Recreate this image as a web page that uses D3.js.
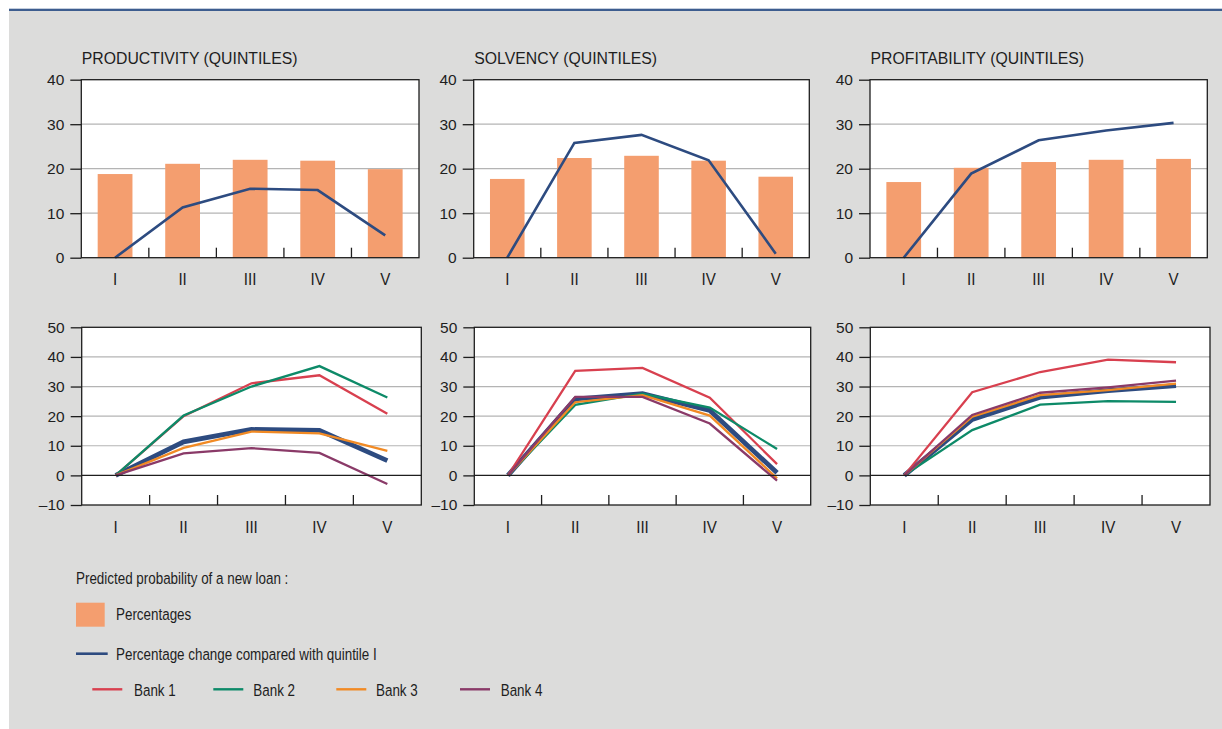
<!DOCTYPE html>
<html><head><meta charset="utf-8">
<script src="https://cdn.jsdelivr.net/npm/d3@7"></script>
<style>body{margin:0;background:#fff}</style>
</head><body><svg id="c" width="1222" height="729"></svg>
<script>
// ---------- DATA ----------
const quintiles = ["I", "II", "III", "IV", "V"];
const panelTitles = ["PRODUCTIVITY (QUINTILES)", "SOLVENCY (QUINTILES)", "PROFITABILITY (QUINTILES)"];
const topTicks = [0, 10, 20, 30, 40];
const bottomTicks = [-10, 0, 10, 20, 30, 40, 50];

// predicted probability (percentages) - bars
const pctProductivity = [18.8, 21.1, 22.0, 21.8, 19.9];
const pctSolvency = [17.7, 22.4, 22.9, 21.8, 18.2];
const pctProfitability = [17.0, 20.2, 21.5, 22.0, 22.2];

// percentage change compared with quintile I (all banks)
const chgProductivity = [0, 11.3, 15.5, 15.2, 5.0];
const chgSolvency = [0, 25.8, 27.6, 21.9, 0.9];
const chgProfitability = [0, 18.9, 26.4, 28.6, 30.3];

// per bank percentage change
const bank1Productivity = [0, 20.0, 31.1, 33.8, 20.8];
const bank2Productivity = [0, 20.2, 30.0, 36.9, 26.3];
const bank3Productivity = [0, 9.3, 14.8, 14.2, 8.3];
const bank4Productivity = [0, 7.4, 9.2, 7.6, -2.9];

const bank1Solvency = [0, 35.3, 36.3, 26.2, 3.8];
const bank2Solvency = [0, 23.8, 27.6, 22.9, 8.9];
const bank3Solvency = [0, 24.7, 27.1, 20.2, -1.0];
const bank4Solvency = [0, 26.5, 26.5, 17.5, -1.8];

const bank1Profitability = [0, 28.1, 34.9, 39.1, 38.2];
const bank2Profitability = [0, 15.3, 23.9, 25.1, 24.8];
const bank3Profitability = [0, 19.8, 27.1, 28.8, 31.0];
const bank4Profitability = [0, 20.4, 27.9, 29.7, 32.0];

const bankNames = ["Bank 1", "Bank 2", "Bank 3", "Bank 4"];
const legendTitle = "Predicted probability of a new loan :";
const legendBars = "Percentages";
const legendLine = "Percentage change compared with quintile I";

// ---------- STYLE / LAYOUT ----------
const C = {
  bg: "#dcdcdb", bar: "#f49e6f", blue: "#2d4b80", frame: "#1e1e1e", grid: "#b4b4b4",
  banks: ["#d8404f", "#0d8a68", "#f18a24", "#8a3a68"], text: "#1e1e1e", topRule: "#3d5d8f"
};
const font = "'Liberation Sans',Arial,sans-serif";

const svg = d3.select("#c");
svg.append("rect").attr("x", 9).attr("y", 10).attr("width", 1213).attr("height", 719).attr("fill", C.bg);
svg.append("rect").attr("x", 9).attr("y", 8.7).attr("width", 1213).attr("height", 2.3).attr("fill", C.topRule);

// text with horizontal compression (condensed look)
function ctext(parent, x, y, str, size, sx, anchor) {
  return parent.append("text")
    .attr("transform", `translate(${x},${y}) scale(${sx},1)`)
    .attr("text-anchor", anchor || "start").attr("dominant-baseline", "central")
    .attr("fill", C.text).style("font-family", font).style("font-size", size + "px").text(str);
}

const topPanels = [[81.3, 419], [473.7, 809.3], [870, 1207.3]];
const bottomPanels = [[81.7, 421.3], [474.3, 810.7], [870.3, 1210]];

const pctData = [pctProductivity, pctSolvency, pctProfitability];
const chgData = [chgProductivity, chgSolvency, chgProfitability];
const bankData = [
  [bank1Productivity, bank2Productivity, bank3Productivity, bank4Productivity],
  [bank1Solvency, bank2Solvency, bank3Solvency, bank4Solvency],
  [bank1Profitability, bank2Profitability, bank3Profitability, bank4Profitability]
];

function drawFrame(g, x, y, ticks, zeroLine) {
  const [x0, x1] = x.range();
  const [yb, yt] = y.range();
  g.append("rect").attr("x", x0).attr("y", yt).attr("width", x1 - x0).attr("height", yb - yt).attr("fill", "#fff");
  ticks.slice(1, -1).forEach(t => {
    if (t === 0 && zeroLine) return;
    g.append("line").attr("x1", x0).attr("x2", x1).attr("y1", y(t)).attr("y2", y(t))
      .attr("stroke", C.grid).attr("stroke-width", 1.2);
  });
}

function drawAxes(g, x, y, ticks, zeroLine, labelY) {
  const [x0, x1] = x.range();
  const [yb, yt] = y.range();
  if (zeroLine) {
    g.append("line").attr("x1", x0).attr("x2", x1).attr("y1", y(0)).attr("y2", y(0))
      .attr("stroke", C.frame).attr("stroke-width", 1.2);
  }
  g.append("rect").attr("x", x0).attr("y", yt).attr("width", x1 - x0).attr("height", yb - yt)
    .attr("fill", "none").attr("stroke", C.frame).attr("stroke-width", 1.3);
  // category separators
  quintiles.slice(1).forEach(q => {
    const xs = x(q);
    g.append("line").attr("x1", xs).attr("x2", xs).attr("y1", yb).attr("y2", yb - 10)
      .attr("stroke", C.frame).attr("stroke-width", 1.3);
  });
  // y ticks
  const yAxis = d3.axisLeft(y).tickValues(ticks).tickSize(11).tickPadding(6)
    .tickFormat(d => d < 0 ? "\u2013" + Math.abs(d) : d);
  const ga = g.append("g").attr("transform", `translate(${x0},0)`).call(yAxis);
  ga.select(".domain").remove();
  ga.selectAll(".tick line").attr("stroke", C.frame).attr("stroke-width", 1.3);
  ga.selectAll(".tick text").attr("fill", C.text).style("font-family", font).style("font-size", "15.5px");
  // category labels
  quintiles.forEach(q => {
    ctext(g, x(q) + x.bandwidth() / 2, labelY, q, 16, 0.95, "middle");
  });
}

// ---------- TOP PANELS ----------
topPanels.forEach((p, i) => {
  const g = svg.append("g");
  const x = d3.scaleBand().domain(quintiles).range(p).paddingInner(0).paddingOuter(0);
  const y = d3.scaleLinear().domain([0, 40]).range([257.7, 79.7]);
  drawFrame(g, x, y, topTicks, false);
  const bw = x.bandwidth() * 0.515;
  g.selectAll(".bar").data(pctData[i]).enter().append("rect")
    .attr("x", (d, k) => x(quintiles[k]) + (x.bandwidth() - bw) / 2)
    .attr("y", d => y(d)).attr("width", bw).attr("height", d => y(0) - y(d)).attr("fill", C.bar);
  const line = d3.line().x((d, k) => x(quintiles[k]) + x.bandwidth() / 2).y(d => y(d));
  g.append("path").attr("d", line(chgData[i])).attr("fill", "none").attr("stroke", C.blue)
    .attr("stroke-width", 2.6).attr("stroke-linejoin", "miter");
  drawAxes(g, x, y, topTicks, false, 279);
  ctext(g, p[0] + 0.5, 57.5, panelTitles[i], 17, 0.93);
});

// ---------- BOTTOM PANELS ----------
bottomPanels.forEach((p, i) => {
  const g = svg.append("g");
  const x = d3.scaleBand().domain(quintiles).range(p);
  const y = d3.scaleLinear().domain([-10, 50]).range([505, 327.3]);
  drawFrame(g, x, y, bottomTicks, true);
  const line = d3.line().x((d, k) => x(quintiles[k]) + x.bandwidth() / 2).y(d => y(d));
  g.append("path").attr("d", line(chgData[i])).attr("fill", "none").attr("stroke", C.blue)
    .attr("stroke-width", 4.8).attr("stroke-linejoin", "miter");
  bankData[i].forEach((arr, b) => {
    g.append("path").attr("d", line(arr)).attr("fill", "none").attr("stroke", C.banks[b])
      .attr("stroke-width", 2.3).attr("stroke-linejoin", "miter");
  });
  drawAxes(g, x, y, bottomTicks, true, 527);
});

// ---------- LEGEND ----------
const lg = svg.append("g");
const sx = 0.78;
const ls = 17.2;
ctext(lg, 76, 578, legendTitle, ls, sx);
lg.append("rect").attr("x", 76).attr("y", 602.7).attr("width", 28.7).attr("height", 24).attr("fill", C.bar);
ctext(lg, 116, 614, legendBars, ls, sx);
lg.append("line").attr("x1", 76).attr("x2", 107.7).attr("y1", 653.7).attr("y2", 653.7)
  .attr("stroke", C.blue).attr("stroke-width", 2.6);
ctext(lg, 116, 654, legendLine, ls, sx);
const bankLineX = [92.3, 213.3, 336.3, 460];
const bankTextX = [134, 253.3, 376, 500.7];
bankNames.forEach((n, b) => {
  lg.append("line").attr("x1", bankLineX[b]).attr("x2", bankLineX[b] + 30).attr("y1", 689.3).attr("y2", 689.3)
    .attr("stroke", C.banks[b]).attr("stroke-width", 2.4);
  ctext(lg, bankTextX[b], 689.5, n, ls, sx);
});
</script></body></html>
